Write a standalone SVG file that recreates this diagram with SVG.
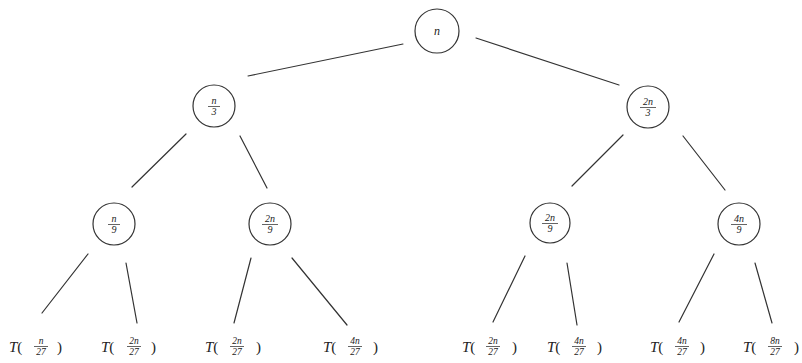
<svg xmlns="http://www.w3.org/2000/svg" width="802" height="363" viewBox="0 0 802 363">
<style>
.e{stroke:#333;stroke-width:1.2;fill:none;stroke-linecap:round}
.c{stroke:#333;stroke-width:1.2;fill:#fff}
.n{font-family:"Liberation Serif",serif;font-style:italic;fill:#222;text-anchor:middle}
.f{font-size:10px}
.t{font-family:"Liberation Serif",serif;fill:#222;font-size:15px}
.ti{font-style:italic}
.s{font-family:"Liberation Serif",serif;font-style:italic;fill:#222;font-size:9.5px;text-anchor:middle}
.b{stroke:#222;stroke-width:0.7}
</style>
<rect width="802" height="363" fill="#fff"/>
<g id="connectors">
<line class="e" x1="403" y1="44" x2="248" y2="76"/>
<line class="e" x1="476" y1="38" x2="619" y2="85"/>
<line class="e" x1="186" y1="134" x2="132" y2="187"/>
<line class="e" x1="240" y1="136" x2="267" y2="188"/>
<line class="e" x1="623" y1="135" x2="572" y2="186"/>
<line class="e" x1="683" y1="136" x2="725" y2="190"/>
<line class="e" x1="88" y1="254" x2="42" y2="313"/>
<line class="e" x1="126" y1="263" x2="137" y2="323"/>
<line class="e" x1="251" y1="258" x2="234" y2="323"/>
<line class="e" x1="292" y1="258" x2="347" y2="325"/>
<line class="e" x1="525" y1="256" x2="493" y2="322"/>
<line class="e" x1="567" y1="263" x2="577" y2="325"/>
<line class="e" x1="714" y1="254" x2="679" y2="322"/>
<line class="e" x1="755" y1="263" x2="772" y2="323"/>
</g>
<g id="node-n">
<circle class="c" cx="437" cy="31" r="22"/>
<text class="n" x="437" y="35" font-size="12">n</text>
</g>
<g id="node-n3">
<circle class="c" cx="214" cy="106" r="21"/>
<text class="n f" x="214" y="104">n</text>
<line class="b" x1="208" y1="106.5" x2="220" y2="106.5"/>
<text class="n f" x="214" y="115">3</text>
</g>
<g id="node-2n3">
<circle class="c" cx="648" cy="107" r="21"/>
<text class="n f" x="648" y="105">2n</text>
<line class="b" x1="640" y1="107.5" x2="656" y2="107.5"/>
<text class="n f" x="648" y="116">3</text>
</g>
<g id="node-n9">
<circle class="c" cx="114" cy="224" r="21"/>
<text class="n f" x="114" y="222">n</text>
<line class="b" x1="108" y1="224.5" x2="120" y2="224.5"/>
<text class="n f" x="114" y="233">9</text>
</g>
<g id="node-2n9a">
<circle class="c" cx="270" cy="224" r="21"/>
<text class="n f" x="270" y="222">2n</text>
<line class="b" x1="262" y1="224.5" x2="278" y2="224.5"/>
<text class="n f" x="270" y="233">9</text>
</g>
<g id="node-2n9b">
<circle class="c" cx="550" cy="223" r="20"/>
<text class="n f" x="550" y="221">2n</text>
<line class="b" x1="542" y1="223.5" x2="558" y2="223.5"/>
<text class="n f" x="550" y="232">9</text>
</g>
<g id="node-4n9">
<circle class="c" cx="739" cy="224" r="21"/>
<text class="n f" x="739" y="222">4n</text>
<line class="b" x1="731" y1="224.5" x2="747" y2="224.5"/>
<text class="n f" x="739" y="233">9</text>
</g>
<g id="leaf-1"><text class="t" x="9" y="352"><tspan class="ti">T</tspan>(</text><text class="s" x="41" y="344">n</text><line class="b" x1="34" y1="346.5" x2="48" y2="346.5"/><text class="s" x="41" y="354.5">27</text><text class="t" x="57" y="352">)</text></g>
<g id="leaf-2"><text class="t" x="101" y="352"><tspan class="ti">T</tspan>(</text><text class="s" x="134" y="344">2n</text><line class="b" x1="127" y1="346.5" x2="141" y2="346.5"/><text class="s" x="134" y="354.5">27</text><text class="t" x="151" y="352">)</text></g>
<g id="leaf-3"><text class="t" x="205" y="352"><tspan class="ti">T</tspan>(</text><text class="s" x="237" y="344">2n</text><line class="b" x1="230" y1="346.5" x2="244" y2="346.5"/><text class="s" x="237" y="354.5">27</text><text class="t" x="256" y="352">)</text></g>
<g id="leaf-4"><text class="t" x="323" y="352"><tspan class="ti">T</tspan>(</text><text class="s" x="355" y="344">4n</text><line class="b" x1="348" y1="346.5" x2="362" y2="346.5"/><text class="s" x="355" y="354.5">27</text><text class="t" x="373" y="352">)</text></g>
<g id="leaf-5"><text class="t" x="462" y="352"><tspan class="ti">T</tspan>(</text><text class="s" x="493" y="344">2n</text><line class="b" x1="486" y1="346.5" x2="500" y2="346.5"/><text class="s" x="493" y="354.5">27</text><text class="t" x="512" y="352">)</text></g>
<g id="leaf-6"><text class="t" x="547" y="352"><tspan class="ti">T</tspan>(</text><text class="s" x="579" y="344">4n</text><line class="b" x1="572" y1="346.5" x2="586" y2="346.5"/><text class="s" x="579" y="354.5">27</text><text class="t" x="597" y="352">)</text></g>
<g id="leaf-7"><text class="t" x="650" y="352"><tspan class="ti">T</tspan>(</text><text class="s" x="682" y="344">4n</text><line class="b" x1="675" y1="346.5" x2="689" y2="346.5"/><text class="s" x="682" y="354.5">27</text><text class="t" x="700" y="352">)</text></g>
<g id="leaf-8"><text class="t" x="743" y="352"><tspan class="ti">T</tspan>(</text><text class="s" x="775" y="344">8n</text><line class="b" x1="768" y1="346.5" x2="782" y2="346.5"/><text class="s" x="775" y="354.5">27</text><text class="t" x="794" y="352">)</text></g>
</svg>
